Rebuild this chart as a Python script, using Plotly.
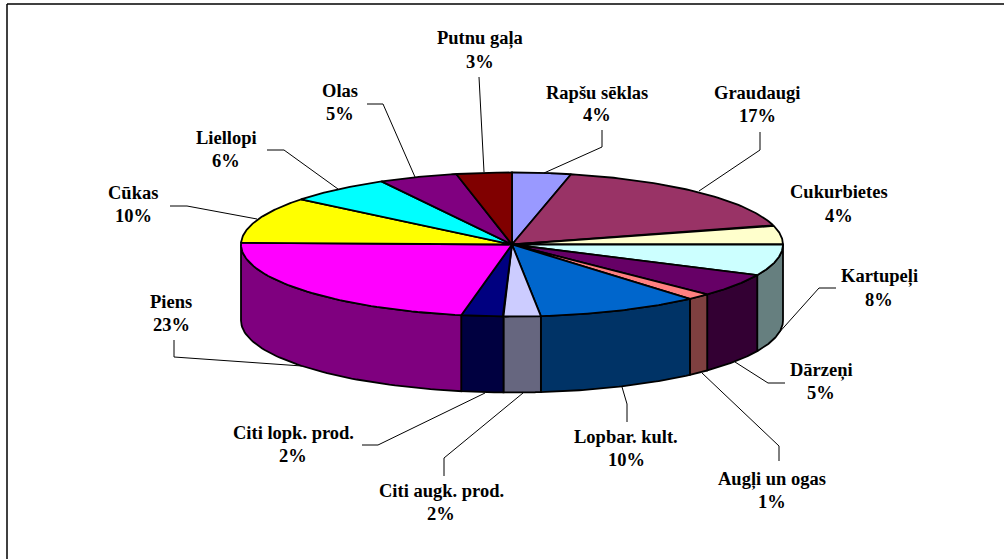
import numpy as np
import plotly.graph_objects as go

categories = ["Rapšu sēklas", "Graudaugi", "Cukurbietes", "Kartupeļi", "Dārzeņi",
              "Augļi un ogas", "Lopbar. kult.", "Citi augk. prod.", "Citi lopk. prod.",
              "Piens", "Cūkas", "Liellopi", "Olas", "Putnu gaļa"]
shares = [3.5, 17.2, 4.3, 7.0, 5.2, 1.4, 9.7, 2.2, 2.5, 22.4, 10.4, 6.2, 4.7, 3.3]
percent_labels = ["4%", "17%", "4%", "8%", "5%", "1%", "10%", "2%", "2%", "23%", "10%", "6%", "5%", "3%"]
colors = ["#9999FF", "#993366", "#FFFFCC", "#CCFFFF", "#660066", "#FF8080", "#0066CC",
          "#CCCCFF", "#000080", "#FF00FF", "#FFFF00", "#00FFFF", "#800080", "#800000"]

# Label layout (pixel space): centre x, y of first line, y of second line
label_x = [597, 757, 839, 879, 821, 772, 626, 441, 293, 171, 133, 226, 340, 480]
label_y1 = [93, 93, 192, 276, 370, 479, 437, 491, 433, 302, 193, 138, 91, 38]
label_y2 = [115, 116, 216, 300, 393, 502, 460, 514, 456, 325, 216, 161, 114, 62]

leader_paths = [
    [(602, 130), (602, 147), (544, 173)],
    [(760, 132), (760, 150), (699, 191)],
    None,
    [(836, 288), (819, 288), (776, 336)],
    [(785, 383), (768, 383), (735, 362)],
    [(779, 461), (779, 446), (702, 373)],
    [(627, 422), (627, 404), (622, 387)],
    [(444, 476), (444, 458), (523, 393)],
    [(362, 445), (378, 445), (485, 393)],
    [(174, 340), (174, 357), (302, 366)],
    [(170, 206), (187, 206), (257, 219)],
    [(267, 150), (284, 150), (338, 189)],
    [(367, 104), (383, 104), (415, 177)],
    [(479, 77), (484, 172)],
]

CX, CY, RX, RY, DEPTH = 512.0, 244.5, 271.0, 72.0, 76.0
FONT = dict(family="Liberation Serif", size=18.5, color="#000000")


def rim(t):
    return CX + RX * np.sin(t), CY - RY * np.cos(t)


def dark(hex_colour):
    r, g, b = (int(hex_colour[i:i + 2], 16) // 2 for i in (1, 3, 5))
    return f"#{r:02X}{g:02X}{b:02X}"


fig = go.Figure()
edges = np.radians(np.concatenate([[0], np.cumsum(shares)]) * 3.6)
OUT = dict(color="#000000", width=1.8)

# side walls of the front half
for i, c in enumerate(colors):
    a, b = max(edges[i], np.pi / 2), min(edges[i + 1], 1.5 * np.pi)
    if b <= a:
        continue
    t = np.linspace(a, b, 60)
    x, y = rim(t)
    fig.add_trace(go.Scatter(x=np.r_[x, x[::-1], x[0]], y=np.r_[y, y[::-1] + DEPTH, y[0]],
                             mode="lines", fill="toself", fillcolor=dark(c), line=OUT,
                             hoverinfo="skip", showlegend=False))

# top faces
for i, c in enumerate(colors):
    t = np.linspace(edges[i], edges[i + 1], 60)
    x, y = rim(t)
    fig.add_trace(go.Scatter(x=np.r_[CX, x, CX], y=np.r_[CY, y, CY],
                             mode="lines", fill="toself", fillcolor=c, line=OUT,
                             name=categories[i], hoverinfo="name", showlegend=False))

# leader lines
for path in leader_paths:
    if path:
        fig.add_trace(go.Scatter(x=[p[0] for p in path], y=[p[1] for p in path], mode="lines",
                                 line=dict(color="#000000", width=1), hoverinfo="skip",
                                 showlegend=False))

# labels
for i, name in enumerate(categories):
    for text, yy in ((name, label_y1[i]), (percent_labels[i], label_y2[i])):
        fig.add_annotation(x=label_x[i], y=yy, text=f"<b>{text}</b>", showarrow=False,
                           font=FONT, xanchor="center", yanchor="middle")

# chart frame
fig.add_shape(type="line", x0=7, x1=1004, y0=4, y1=4, line=dict(color="#000000", width=1.5))
fig.add_shape(type="line", x0=7, x1=7, y0=4, y1=559, line=dict(color="#000000", width=1.5))

fig.update_xaxes(range=[0, 1004], visible=False, fixedrange=True)
fig.update_yaxes(range=[559, 0], visible=False, fixedrange=True)
fig.update_layout(width=1004, height=559, margin=dict(l=0, r=0, t=0, b=0),
                  paper_bgcolor="#FFFFFF", plot_bgcolor="#FFFFFF", showlegend=False)
fig.write_html("out.html", config=dict(displayModeBar=False),
               post_script="document.body.style.margin='0';document.body.style.overflow='hidden';")
